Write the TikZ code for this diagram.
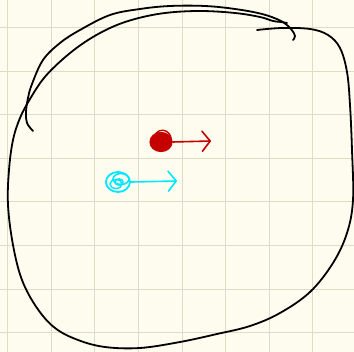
\documentclass[tikz,border=0pt]{standalone}
\usepackage{tikz}
\usetikzlibrary{arrows.meta,shapes.geometric,positioning}

\definecolor{paper}{RGB}{254,252,238}
\definecolor{gridline}{RGB}{222,219,200}
\definecolor{inkred}{RGB}{196,0,0}
\definecolor{inkcyan}{RGB}{0,232,255}

\begin{document}
\begin{tikzpicture}[
  x=1pt, y=-1pt,
  ink/.style={draw=black, line width=1.8pt, line cap=round, line join=round},
  redspot/.style={
    ellipse, draw=inkred, fill=inkred, line width=1.2pt,
    minimum width=22pt, minimum height=19pt, inner sep=0pt
  },
  cyanspot/.style={
    ellipse, draw=inkcyan, line width=1.8pt,
    minimum width=24pt, minimum height=20pt, inner sep=0pt
  },
  push/.style={line width=1.6pt, line cap=round, line join=round,
    -{Straight Barb[length=8pt,width=20pt,line width=1.6pt,round]}}
]
% Papier
\fill[paper] (0,0) rectangle (354,352);
\useasboundingbox (0,0) rectangle (354,352);
\foreach \k in {0,...,7} {
  \draw[gridline, line width=0.8pt] (7.5+43.6*\k,0) -- (7.5+43.6*\k,352);
  \draw[gridline, line width=0.8pt] (0,27.5+43.6*\k) -- (354,27.5+43.6*\k);
}

% Grosse Kurve
\draw[ink] plot[smooth, tension=0.6] coordinates {
  (33,131) (27,123) (26,112) (28,98) (32,84) (43,60) (60,43) (80,30)
  (110,15) (140,9) (170,6) (205,6) (235,9) (262,14) (281,21) (291,29)
  (295,36) (293,40)};
\draw[ink] plot[smooth, tension=0.6] coordinates {
  (257,30) (282,28) (310,29) (328,35) (340,48) (347,72) (350,105)
  (352,150) (353,200) (347,233) (333,263) (310,292) (280,313) (250,326)
  (217,334) (180,342) (140,348) (105,347) (78,340) (55,328) (37,308)
  (22,280) (13,245) (8,205) (9,170) (13,140) (20,118) (30,99) (44,78)
  (63,59) (85,42) (110,28) (135,19) (165,13) (200,11) (235,13) (260,17)
  (273,21) (281,22) (287,23)};

% Punkte
\node[redspot] (redblob) at (161,142) {};
\node[cyanspot] (cyanblob) at (118,182) {};
\draw[inkred, line width=1.4pt] (155,147) .. controls (148,130) and (168,124) .. (171,138)
  .. controls (172,149) and (155,154) .. (151,145);
\draw[inkcyan, line width=1.6pt] (119,182) ellipse (4pt and 3pt);
\draw[inkcyan, line width=1.6pt] (121,179) ellipse (8pt and 5.5pt);
\draw[inkcyan, line width=1.4pt] (116,184) ellipse (6pt and 4.5pt);

% Pfeile
\coordinate (redtip) at (211,141);
\coordinate (cyantip) at (177,181);
\draw[push, inkred] (redblob.east) -- (redtip);
\draw[push, inkcyan] (cyanblob.east) -- (cyantip);

\end{tikzpicture}
\end{document}
